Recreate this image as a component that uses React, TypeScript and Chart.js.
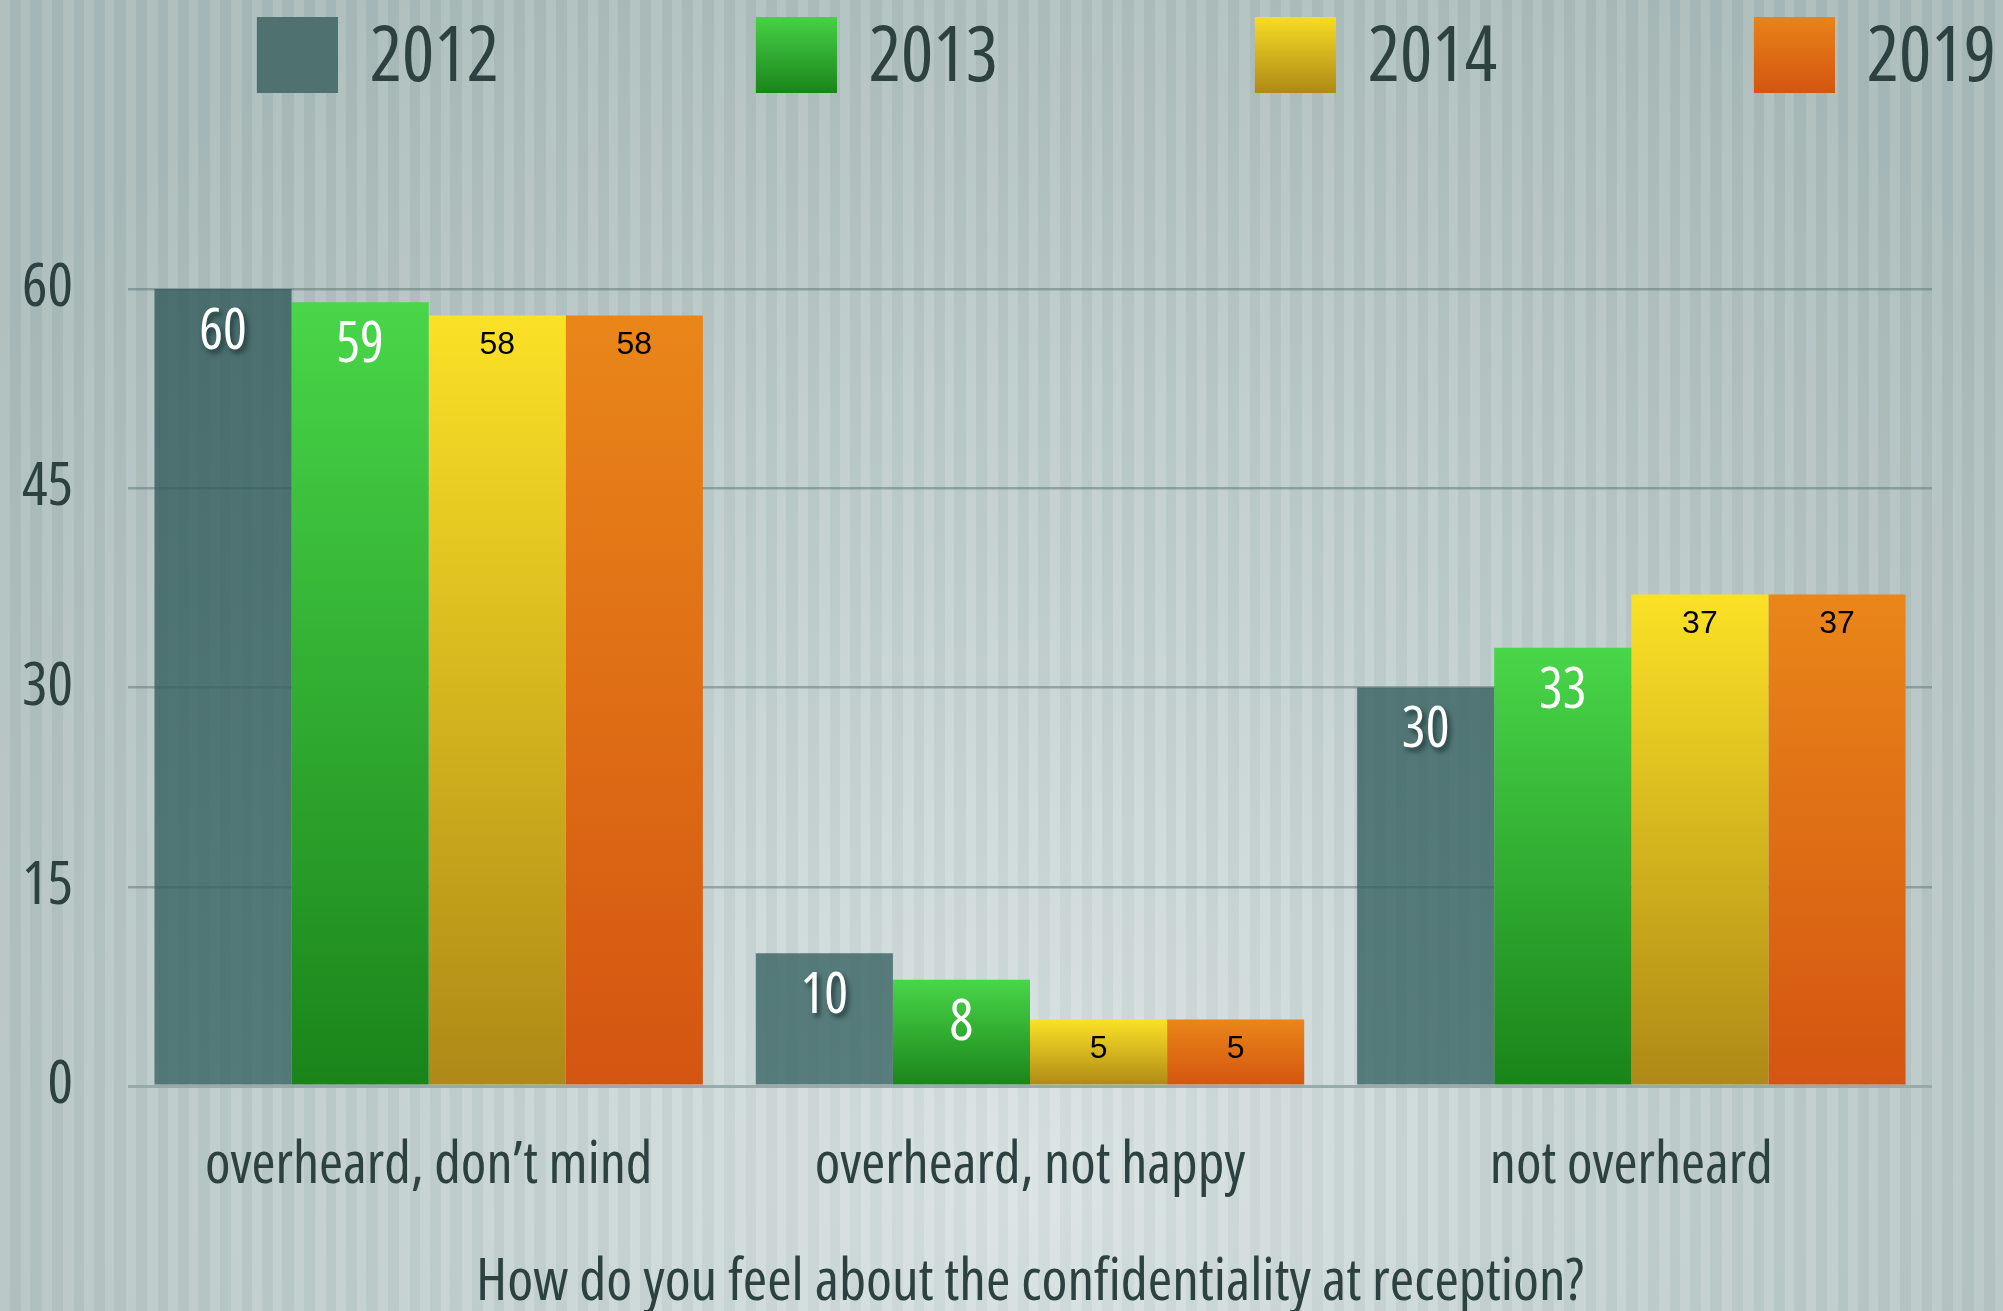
import React, { useEffect, useRef } from "react";
import { Chart, registerables } from "chart.js";

Chart.register(...registerables);

// ---- data ----
const categories = ["overheard, don\u2019t mind", "overheard, not happy", "not overheard"];
const seriesNames = ["2012", "2013", "2014", "2019"];
const values2012 = [60, 10, 30];
const values2013 = [59, 8, 33];
const values2014 = [58, 5, 37];
const values2019 = [58, 5, 37];
const yTickValues = [0, 15, 30, 45, 60];
const axisTitle = "How do you feel about the confidentiality at reception?";

// ---- styles ----
const W = 2003;
const H = 1311;
const TEXT = "#2c4140";
const COND = "'Open Sans', 'Roboto', sans-serif";
const STRETCH = "500 condensed";
const LEGEND_FS = 76;

const barTop = ["rgba(48,90,89,0.80)", "#49d649", "#fbe126", "#e98619"];
const barBottom = ["rgba(56,100,99,0.80)", "#1a841a", "#ae8916", "#d45511"];
const legendTop = ["#4f7170", "#49d649", "#fbe126", "#e98619"];
const legendBottom = ["#4f7170", "#1a841a", "#ae8916", "#d45511"];

const labelStyles = [
  { font: `${STRETCH} 56px ${COND}`, color: "#ffffff", offset: 44, shadow: true },
  { font: `${STRETCH} 56px ${COND}`, color: "#ffffff", offset: 44, shadow: false },
  { font: `32px 'Liberation Sans', Arial, sans-serif`, color: "#000000", offset: 30, shadow: false },
  { font: `32px 'Liberation Sans', Arial, sans-serif`, color: "#000000", offset: 30, shadow: false },
];

function barFill(di: number) {
  return (c: any) => {
    const chart = c.chart;
    const area = chart.chartArea;
    if (!area) return barTop[di];
    const ys = chart.scales.y;
    let y0 = area.top;
    let y1 = area.bottom;
    if (di > 0 && c.type === "data") {
      y0 = ys.getPixelForValue(c.raw as number);
      y1 = ys.getPixelForValue(0);
    }
    if (!isFinite(y0) || !isFinite(y1) || y0 === y1) return barTop[di];
    const g = chart.ctx.createLinearGradient(0, y0, 0, y1);
    g.addColorStop(0, barTop[di]);
    g.addColorStop(1, barBottom[di]);
    return g;
  };
}

const bgPlugin = {
  id: "bgPlugin",
  beforeDraw(chart: any) {
    const ctx = chart.ctx as CanvasRenderingContext2D;
    ctx.save();
    const rg = ctx.createRadialGradient(1030, 1180, 0, 1030, 1180, 1350);
    rg.addColorStop(0, "#dae3e3");
    rg.addColorStop(0.45, "#c3d1d0");
    rg.addColorStop(1, "#a9bbba");
    ctx.fillStyle = rg;
    ctx.fillRect(0, 0, W, H);
    const pat = [10, 11, 9, 12, 10, 11, 11, 10];
    let x = 0;
    let k = 0;
    while (x < W) {
      const w = pat[k % pat.length];
      ctx.fillStyle = k % 2 === 0 ? "rgba(255,255,255,0.08)" : "rgba(60,95,95,0.045)";
      ctx.fillRect(x, 0, w, H);
      x += w;
      k++;
    }
    ctx.restore();
  },
};

const labelPlugin = {
  id: "barLabels",
  afterDatasetsDraw(chart: any) {
    const ctx = chart.ctx as CanvasRenderingContext2D;
    chart.data.datasets.forEach((ds: any, di: number) => {
      const meta = chart.getDatasetMeta(di);
      const st = labelStyles[di];
      meta.data.forEach((bar: any, i: number) => {
        const v = ds.data[i];
        ctx.save();
        ctx.font = st.font;
        ctx.fillStyle = st.color;
        ctx.textAlign = "center";
        ctx.textBaseline = "middle";
        if (st.shadow) {
          ctx.shadowColor = "rgba(20,40,40,0.75)";
          ctx.shadowOffsetX = 3;
          ctx.shadowOffsetY = 4;
          ctx.shadowBlur = 5;
        }
        ctx.fillText(String(v), bar.x, bar.y + st.offset);
        ctx.restore();
      });
    });
  },
};

export default function App() {
  const ref = useRef<HTMLCanvasElement>(null);
  useEffect(() => {
    const canvas = ref.current!;
    const mctx = document.createElement("canvas").getContext("2d")!;
    const legendFont = `${STRETCH} ${LEGEND_FS}px ${COND}`;
    mctx.font = legendFont;
    const textW = mctx.measureText(seriesNames[0]).width;
    const pad = 4;
    const advance = 499;
    const itemW = advance - pad;
    const boxW = itemW - LEGEND_FS / 2 - textW;
    const half = Math.round(334 - boxW / 2);
    const legendImages = legendTop.map((top, i) => {
      const c = document.createElement("canvas");
      c.width = half * 2;
      c.height = 92;
      const g = c.getContext("2d")!;
      const gr = g.createLinearGradient(0, 0, 0, 80);
      gr.addColorStop(0, top);
      gr.addColorStop(1, legendBottom[i]);
      g.fillStyle = gr;
      g.fillRect(c.width - 81, 0, 81, 80);
      return c;
    });

    const series = [values2012, values2013, values2014, values2019];
    const chart = new Chart(canvas, {
      type: "bar",
      data: {
        labels: categories,
        datasets: series.map((vals, di) => ({
          label: seriesNames[di],
          data: vals,
          backgroundColor: barFill(di),
          borderWidth: 0,
          categoryPercentage: 0.912,
          barPercentage: 1.0,
        })),
      },
      options: {
        responsive: false,
        animation: false,
        devicePixelRatio: 1,
        layout: { padding: { top: 17, left: 0, right: 0, bottom: 0 } },
        plugins: {
          tooltip: { enabled: false },
          legend: {
            display: true,
            position: "top",
            align: "start",
            labels: {
              usePointStyle: true,
              pointStyleWidth: boxW,
              padding: pad,
              color: TEXT,
              font: { family: COND, size: LEGEND_FS, weight: STRETCH as any },
              generateLabels: () =>
                seriesNames.map((name, i) => ({
                  text: name,
                  fillStyle: legendTop[i],
                  strokeStyle: "rgba(0,0,0,0)",
                  lineWidth: 0,
                  pointStyle: legendImages[i] as any,
                  hidden: false,
                  datasetIndex: i,
                  fontColor: TEXT,
                })),
            },
          },
          title: {
            display: true,
            text: "",
            weight: 500,
            font: { size: 10, lineHeight: 1 },
            padding: { top: 0, bottom: 172 },
          } as any,
          subtitle: {
            display: true,
            text: "",
            position: "right",
            fullSize: false,
            font: { size: 10, lineHeight: 1 },
            padding: { top: 61, bottom: 0 },
          } as any,
        },
        scales: {
          x: {
            grid: { display: false, drawTicks: false },
            border: { display: false },
            ticks: {
              color: TEXT,
              padding: 46,
              maxRotation: 0,
              autoSkip: false,
              font: { family: COND, size: 58, weight: STRETCH as any, lineHeight: 1.2 },
            },
            title: {
              display: true,
              text: axisTitle,
              color: TEXT,
              font: { family: COND, size: 59, weight: STRETCH as any, lineHeight: 0.8 },
              padding: { top: 0, bottom: 4 },
            },
            afterFit: (s: any) => {
              s.height = 225;
            },
          },
          y: {
            min: yTickValues[0],
            max: yTickValues[yTickValues.length - 1],
            afterBuildTicks: (s: any) => {
              s.ticks = yTickValues.map((v) => ({ value: v }));
            },
            grid: {
              drawTicks: false,
              color: (c: any) => (c.tick && c.tick.value === 0 ? "rgba(150,168,168,0.95)" : "rgba(92,116,116,0.5)"),
              lineWidth: (c: any) => (c.tick && c.tick.value === 0 ? 3 : 2.5),
            },
            border: { display: false },
            ticks: {
              color: TEXT,
              padding: 55,
              font: { family: COND, size: 60, weight: STRETCH as any },
            },
            afterFit: (s: any) => {
              s.width = 128;
            },
          },
        },
      },
      plugins: [bgPlugin, labelPlugin],
    });
    return () => chart.destroy();
  }, []);
  return (
    <canvas
      ref={ref}
      width={W}
      height={H}
      style={{ position: "absolute", left: 0, top: 0, display: "block" }}
    />
  );
}
